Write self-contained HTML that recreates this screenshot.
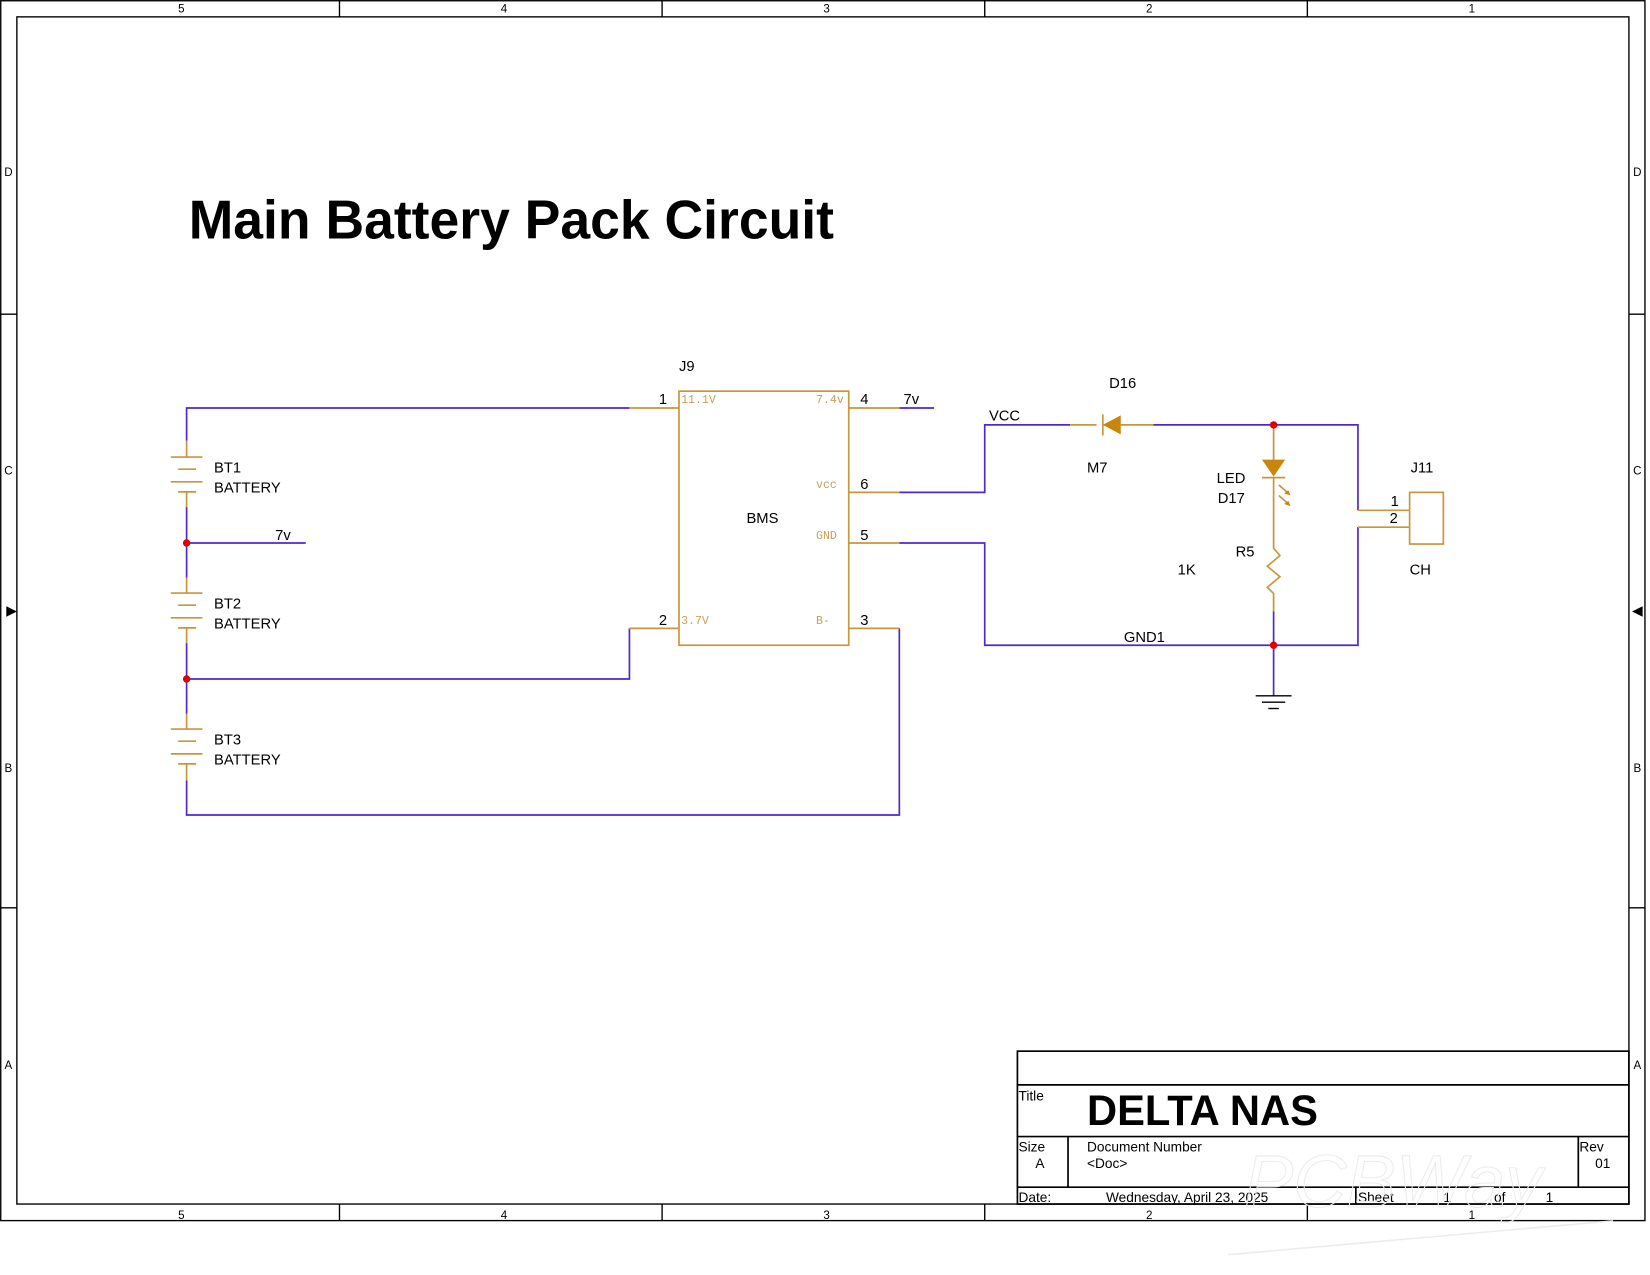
<!DOCTYPE html>
<html><head><meta charset="utf-8"><style>
html,body{margin:0;padding:0;background:#fff;}
svg{display:block;}
text{font-family:"Liberation Sans",sans-serif;fill:#000;}
.m{font-family:"Liberation Mono",monospace;fill:#c8a060;font-size:11px;}
</style></head><body>
<svg width="1650" height="1275" viewBox="0 0 1565 1209.3" preserveAspectRatio="none" xmlns="http://www.w3.org/2000/svg">
<g fill="none" stroke="#000" stroke-width="1.3">
<rect x="0.7" y="0.7" width="1559.5" height="1157"/>
<rect x="16" y="16" width="1529" height="1126"/>
<line x1="322" y1="0" x2="322" y2="16"/><line x1="628" y1="0" x2="628" y2="16"/><line x1="934" y1="0" x2="934" y2="16"/><line x1="1240" y1="0" x2="1240" y2="16"/>
<line x1="322" y1="1142" x2="322" y2="1158"/><line x1="628" y1="1142" x2="628" y2="1158"/><line x1="934" y1="1142" x2="934" y2="1158"/><line x1="1240" y1="1142" x2="1240" y2="1158"/>
<line x1="0" y1="298" x2="16" y2="298"/><line x1="0" y1="861" x2="16" y2="861"/>
<line x1="1545" y1="298" x2="1560" y2="298"/><line x1="1545" y1="861" x2="1560" y2="861"/>
</g>
<polygon points="6,575 16,580 6,585" fill="#000"/>
<polygon points="1558,575 1548,580 1558,585" fill="#000"/>
<g font-size="11" text-anchor="middle">
<text x="172" y="12">5</text><text x="478" y="12">4</text><text x="784" y="12">3</text><text x="1090" y="12">2</text><text x="1396" y="12">1</text>
<text x="172" y="1156">5</text><text x="478" y="1156">4</text><text x="784" y="1156">3</text><text x="1090" y="1156">2</text><text x="1396" y="1156">1</text>
<text x="8" y="167">D</text><text x="8" y="450">C</text><text x="8" y="732">B</text><text x="8" y="1014">A</text>
<text x="1553" y="167">D</text><text x="1553" y="450">C</text><text x="1553" y="732">B</text><text x="1553" y="1014">A</text>
</g>
<text x="179" y="226" font-size="52" font-weight="bold" textLength="612" lengthAdjust="spacingAndGlyphs">Main Battery Pack Circuit</text>

<g fill="none" stroke="#5028c8" stroke-width="1.6">
<polyline points="597,387 177,387 177,418"/>
<line x1="177" y1="481" x2="177" y2="548"/>
<line x1="177" y1="515" x2="290" y2="515"/>
<line x1="177" y1="610" x2="177" y2="677"/>
<polyline points="177,644 597,644 597,596"/>
<polyline points="177,740 177,773 853,773 853,596"/>
<line x1="853" y1="387" x2="886" y2="387"/>
<polyline points="853,467 934,467 934,403 1015,403"/>
<polyline points="853,515 934,515 934,612 1288,612 1288,500"/>
<polyline points="1094,403 1288,403 1288,484"/>
<line x1="1208" y1="580" x2="1208" y2="660"/>
</g>
<g fill="none" stroke="#c8963c" stroke-width="1.6">
<line x1="177" y1="418" x2="177" y2="433"/>
<line x1="162" y1="433.5" x2="192" y2="433.5"/><line x1="169" y1="445" x2="186" y2="445"/>
<line x1="162" y1="457" x2="192" y2="457"/><line x1="169" y1="466.5" x2="186" y2="466.5"/>
<line x1="177" y1="466" x2="177" y2="481"/>
<line x1="177" y1="548" x2="177" y2="562"/>
<line x1="162" y1="562.5" x2="192" y2="562.5"/><line x1="169" y1="574" x2="186" y2="574"/>
<line x1="162" y1="586" x2="192" y2="586"/><line x1="169" y1="595.5" x2="186" y2="595.5"/>
<line x1="177" y1="595" x2="177" y2="610"/>
<line x1="177" y1="677" x2="177" y2="691"/>
<line x1="162" y1="691.5" x2="192" y2="691.5"/><line x1="169" y1="703" x2="186" y2="703"/>
<line x1="162" y1="715" x2="192" y2="715"/><line x1="169" y1="724.5" x2="186" y2="724.5"/>
<line x1="177" y1="724" x2="177" y2="740"/>
<rect x="644" y="371" width="161" height="241"/>
<line x1="597" y1="387" x2="644" y2="387"/><line x1="805" y1="387" x2="853" y2="387"/>
<line x1="805" y1="467" x2="853" y2="467"/><line x1="805" y1="515" x2="853" y2="515"/>
<line x1="597" y1="596" x2="644" y2="596"/><line x1="805" y1="596" x2="853" y2="596"/>
<line x1="1015" y1="403" x2="1040" y2="403"/><line x1="1063" y1="403" x2="1094" y2="403"/>
<line x1="1046" y1="393" x2="1046" y2="413"/>
<line x1="1208" y1="403" x2="1208" y2="436"/>
<line x1="1197" y1="453" x2="1219" y2="453"/>
<line x1="1208" y1="453" x2="1208" y2="515"/>
<line x1="1213" y1="460" x2="1222" y2="468"/><line x1="1213" y1="470" x2="1222" y2="478"/>
<polyline points="1208,515 1208,520 1214,527 1202,537 1214,547 1202,557 1208,563 1208,580"/>
<rect x="1337" y="467" width="32" height="49"/>
<line x1="1288" y1="484" x2="1337" y2="484"/><line x1="1288" y1="500" x2="1337" y2="500"/>
</g>
<g fill="#c8860c">
<polygon points="1046,403 1063,394 1063,412"/>
<polygon points="1197,436 1219,436 1208,452"/>
<polygon points="1224,470 1218,468 1222,465"/><polygon points="1224,480 1218,478 1222,475"/>
</g>
<g stroke="#000" stroke-width="1.3">
<line x1="1191" y1="660" x2="1225" y2="660"/><line x1="1197" y1="666" x2="1219" y2="666"/><line x1="1203" y1="672" x2="1213" y2="672"/>
</g>
<g fill="#e00000">
<circle cx="177" cy="515" r="3.5"/><circle cx="177" cy="644" r="3.5"/>
<circle cx="1208" cy="403" r="3.5"/><circle cx="1208" cy="612" r="3.5"/>
</g>
<g font-size="14">
<text x="203" y="448">BT1</text><text x="203" y="467">BATTERY</text>
<text x="203" y="577">BT2</text><text x="203" y="596">BATTERY</text>
<text x="203" y="706">BT3</text><text x="203" y="725">BATTERY</text>
<text x="261" y="512">7v</text>
<text x="644" y="352">J9</text>
<text x="625" y="383">1</text><text x="816" y="383">4</text><text x="857" y="383">7v</text>
<text x="816" y="464">6</text><text x="816" y="512">5</text>
<text x="625" y="593">2</text><text x="816" y="593">3</text>
<text x="708" y="496">BMS</text>
<text x="938" y="399">VCC</text>
<text x="1052" y="368">D16</text><text x="1031" y="448">M7</text>
<text x="1154" y="458">LED</text><text x="1155" y="477">D17</text>
<text x="1172" y="528">R5</text><text x="1117" y="545">1K</text>
<text x="1066" y="609">GND1</text>
<text x="1338" y="448">J11</text><text x="1319" y="480">1</text><text x="1318" y="496">2</text>
<text x="1337" y="545">CH</text>
</g>
<text class="m" x="646" y="382">11.1V</text><text class="m" x="774" y="382">7.4v</text>
<text class="m" x="774" y="463">vcc</text><text class="m" x="774" y="511">GND</text>
<text class="m" x="646" y="592">3.7V</text><text class="m" x="774" y="592">B-</text>
<g fill="none" stroke="#000" stroke-width="1.6">
<rect x="965" y="997" width="580" height="145"/>
<line x1="965" y1="1029" x2="1545" y2="1029"/>
<line x1="965" y1="1078" x2="1545" y2="1078"/>
<line x1="965" y1="1126" x2="1545" y2="1126"/>
<line x1="1013" y1="1078" x2="1013" y2="1126"/>
<line x1="1497" y1="1078" x2="1497" y2="1126"/>
<line x1="1286" y1="1126" x2="1286" y2="1142"/>
</g>
<g font-size="13">
<text x="966" y="1044">Title</text>
<text x="966" y="1092">Size</text><text x="982" y="1108">A</text>
<text x="1031" y="1092">Document Number</text><text x="1031" y="1108">&lt;Doc&gt;</text>
<text x="1498" y="1092">Rev</text><text x="1513" y="1108">01</text>
<text x="966" y="1140">Date:</text><text x="1049" y="1140">Wednesday, April 23, 2025</text>
<text x="1288" y="1140">Sheet</text><text x="1369" y="1140">1</text><text x="1417" y="1140">of</text><text x="1466" y="1140">1</text>
</g>
<text x="1031" y="1067" font-size="40" font-weight="bold" textLength="219" lengthAdjust="spacingAndGlyphs">DELTA NAS</text>
<text x="1180" y="1145" font-size="70" font-style="italic" stroke="#ececec" stroke-width="1" style="fill:none">PCBWay</text>
<line x1="1165" y1="1190" x2="1530" y2="1158" stroke="#ececec" stroke-width="1.5"/>
</svg>
</body></html>
